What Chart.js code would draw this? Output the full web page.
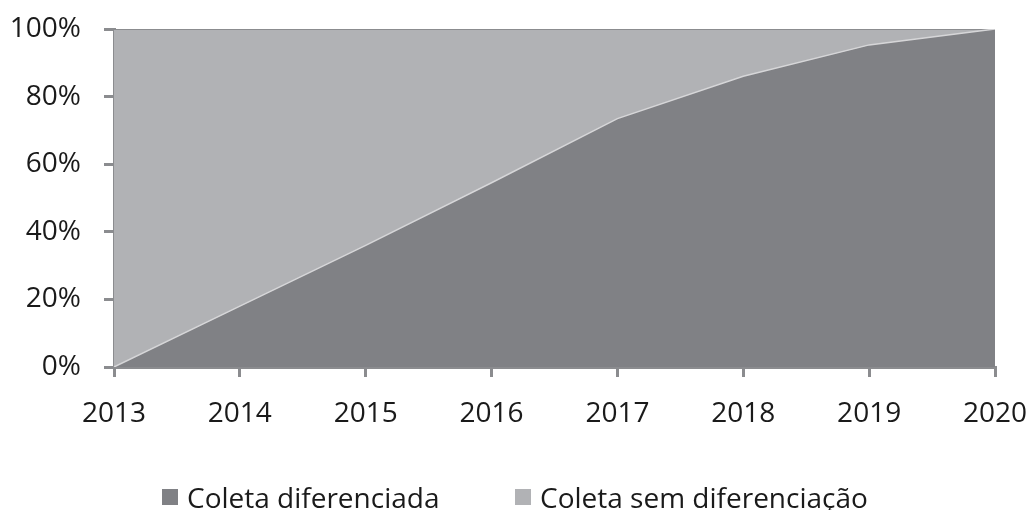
<!DOCTYPE html>
<html>
<head>
<meta charset="utf-8">
<script src="https://cdn.jsdelivr.net/npm/chart.js@4.4.1/dist/chart.umd.min.js"></script>
<style>
  html, body { margin: 0; padding: 0; background: #ffffff; }
  #wrap { position: relative; width: 1030px; height: 510px; }
  #legend { position: absolute; left: 0; top: 480px; height: 34px; width: 1030px;
            font-family: 'Open Sans', sans-serif; font-size: 28px; line-height: 34px; color: #1a1a1a; }
  #legend .item { position: absolute; top: 0; white-space: nowrap; }
  #legend .box { display: inline-block; width: 16px; height: 16px; margin-right: 9px; vertical-align: 3px; }
</style>
</head>
<body>
<div id="wrap">
  <canvas id="areaChart" width="1030" height="510"></canvas>
  <div id="legend"></div>
</div>
<script>
// Data (share of each collection type, %)
const years = ['2013', '2014', '2015', '2016', '2017', '2018', '2019', '2020'];
const coletaDiferenciada = [0, 18, 36, 54.5, 73.5, 86, 95.3, 100];
const coletaSemDiferenciacao = [100, 82, 64, 45.5, 26.5, 14, 4.7, 0];
const yTicks = [0, 20, 40, 60, 80, 100];

const axisGrey = '#8b8c8f';
const textFont = { family: 'Open Sans', size: 28 };

const ctx = document.getElementById('areaChart');

const chart = new Chart(ctx, {
    type: 'line',
    data: {
        labels: years,
        datasets: [{
            label: 'Coleta diferenciada',
            data: coletaDiferenciada,
            backgroundColor: '#808185',
            borderColor: '#d6d6d8',
            borderWidth: 1.5,
            fill: 'origin',
            pointRadius: 0,
            tension: 0
        }, {
            label: 'Coleta sem diferenciação',
            data: coletaSemDiferenciacao,
            backgroundColor: '#b1b2b5',
            borderColor: axisGrey,
            borderWidth: 2,
            fill: '-1',
            pointRadius: 0,
            tension: 0
        }]
    },
    options: {
        responsive: false,
        animation: false,
        layout: {
            padding: { top: 29, right: 35, left: 0, bottom: 0 }
        },
        plugins: {
            legend: { display: false },
            tooltip: { enabled: false }
        },
        scales: {
            x: {
                offset: false,
                afterFit: scale => {
                    scale.height = 143;
                    scale.paddingLeft = 0;
                    scale.paddingRight = 0;
                },
                ticks: {
                    color: '#1a1a1a',
                    padding: 20,
                    maxRotation: 0,
                    autoSkip: false,
                    font: textFont
                },
                grid: {
                    drawOnChartArea: false,
                    color: axisGrey,
                    lineWidth: 3,
                    tickLength: 10
                },
                border: { color: axisGrey, width: 3 }
            },
            y: {
                stacked: true,
                min: 0,
                max: 100,
                afterFit: scale => {
                    scale.width = 114;
                    scale.paddingTop = 0;
                    scale.paddingBottom = 0;
                },
                afterBuildTicks: scale => {
                    scale.ticks = yTicks.map(v => ({ value: v }));
                },
                ticks: {
                    color: '#1a1a1a',
                    padding: 23,
                    font: textFont,
                    callback: v => v + '%'
                },
                grid: {
                    drawOnChartArea: false,
                    color: axisGrey,
                    lineWidth: 3,
                    tickLength: 10
                },
                border: { color: axisGrey, width: 3 }
            }
        }
    }
});

// HTML legend built from the datasets
const legendX = [162, 515];
const legendEl = document.getElementById('legend');
chart.data.datasets.forEach((ds, i) => {
    const item = document.createElement('span');
    item.className = 'item';
    item.style.left = legendX[i] + 'px';
    const box = document.createElement('span');
    box.className = 'box';
    box.style.background = ds.backgroundColor;
    item.appendChild(box);
    item.appendChild(document.createTextNode(ds.label));
    legendEl.appendChild(item);
});
</script>
</body>
</html>
